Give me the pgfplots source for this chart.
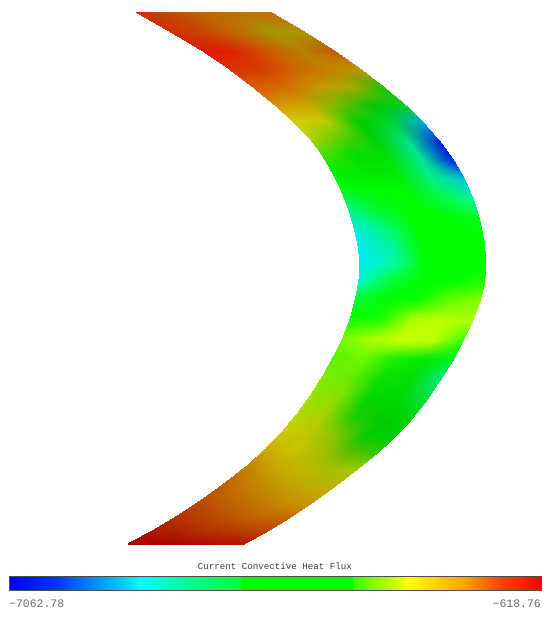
\documentclass[border=0pt]{standalone}
\usepackage{pgfplots}
\pgfplotsset{compat=1.18}
\usepgfplotslibrary{patchplots}
\usepackage{fontspec}
\setmonofont{Liberation Mono}
\definecolor{txtdark}{RGB}{60,60,60}
\definecolor{txtgray}{RGB}{105,105,105}
\begin{document}
\begin{tikzpicture}
\path[use as bounding box] (0,0) rectangle (550bp,617bp);
\begin{axis}[
  at={(0,0)},anchor=south west,
  scale only axis,width=550bp,height=617bp,
  xmin=0,xmax=550,ymin=0,ymax=617,y dir=reverse,
  hide axis,clip=false]
\addplot[surf,shader=interp,patch type=bilinear,mesh/color input=explicit,mesh/cols=5] table[meta=c] {
x y c
136 12 rgb255=205,50,0
169 12 rgb255=190,75,0
203 12 rgb255=190,100,0
236 12 rgb255=190,110,0
270 12 rgb255=195,110,0
170 31.5 rgb255=205,50,0
204 32 rgb255=200,70,0
237 32 rgb255=190,105,0
271 32 rgb255=165,150,0
305 32.5 rgb255=170,150,0
203 51 rgb255=225,25,0
236 51 rgb255=220,40,0
269 51 rgb255=200,90,0
302 51 rgb255=180,130,0
335 51.5 rgb255=195,90,0
228 68 rgb255=215,50,0
261 69 rgb255=215,60,0
295 69 rgb255=205,100,0
328 70 rgb255=195,130,0
362 70.5 rgb255=190,150,0
253 87 rgb255=215,90,0
285 87 rgb255=210,110,0
318 87 rgb255=200,150,0
351 87 rgb255=170,170,0
384 87.5 rgb255=20,195,0
275 105 rgb255=210,150,0
308 105 rgb255=205,165,0
340 105.5 rgb255=110,190,0
373 106 rgb255=0,200,0
406 106 rgb255=0,210,40
293 121 rgb255=210,205,0
325 121 rgb255=195,205,0
358 122 rgb255=0,205,0
390 122 rgb255=0,215,40
423 122.5 rgb255=0,170,215
308 136 rgb255=190,210,0
341 138 rgb255=90,205,0
374.5 139.5 rgb255=0,210,0
408 141 rgb255=0,225,140
441 143 rgb255=0,30,225
320 151.5 rgb255=90,220,0
353.5 154 rgb255=0,225,0
387 156 rgb255=0,225,0
420.5 158.5 rgb255=0,230,150
454 161 rgb255=0,30,225
331 170 rgb255=0,235,0
364.5 172.5 rgb255=0,235,0
398 175 rgb255=0,235,10
431.5 177.5 rgb255=0,240,130
465 180 rgb255=0,200,220
340 187 rgb255=0,250,10
373.5 190.5 rgb255=0,250,0
407 194 rgb255=0,250,0
440.5 197.5 rgb255=0,250,70
474 201 rgb255=0,250,140
348 207 rgb255=0,245,120
381 210.5 rgb255=0,250,40
414 214 rgb255=0,255,0
447 217.5 rgb255=0,255,0
480 221 rgb255=0,255,20
354 227 rgb255=0,240,210
386.5 230.5 rgb255=0,245,130
419 234 rgb255=0,255,0
451.5 237.5 rgb255=0,255,0
484 241 rgb255=0,255,0
358 245 rgb255=0,235,235
390 248 rgb255=0,245,170
422 251 rgb255=0,255,0
454 254 rgb255=0,255,0
485.5 257 rgb255=0,255,0
360 262 rgb255=0,235,250
391.5 263.5 rgb255=0,250,170
423 265 rgb255=0,255,10
454.5 266.5 rgb255=0,255,0
486 268 rgb255=0,255,0
359 280 rgb255=0,245,210
390 281 rgb255=0,255,50
422 281.5 rgb255=0,255,0
453 282 rgb255=0,255,0
484.5 283 rgb255=40,255,0
356 297 rgb255=0,255,60
387 298 rgb255=0,255,0
418 298.5 rgb255=0,255,0
449 299 rgb255=90,255,0
480.5 300 rgb255=130,255,0
351 317 rgb255=0,255,0
381 318 rgb255=20,255,0
411.5 319.5 rgb255=170,255,0
442 321 rgb255=190,255,0
472 322 rgb255=170,255,0
343 338 rgb255=120,250,0
373 339 rgb255=170,255,0
403 340 rgb255=205,255,0
433 341 rgb255=190,255,0
462.5 342 rgb255=40,255,0
334 356 rgb255=90,245,0
364 357 rgb255=110,250,0
393.5 358 rgb255=30,240,0
423 359 rgb255=0,235,0
453 360 rgb255=0,240,30
323 376 rgb255=120,235,0
353 377 rgb255=100,235,0
382 377.5 rgb255=10,225,0
412 378 rgb255=0,225,0
441 379 rgb255=0,230,130
311 395 rgb255=150,230,0
340 396.5 rgb255=130,225,0
369 398 rgb255=0,215,0
397.5 400 rgb255=0,215,0
426 401 rgb255=0,225,60
298 413 rgb255=180,215,0
326 415 rgb255=160,210,0
354 417 rgb255=30,205,0
382 419 rgb255=0,205,0
410 421 rgb255=0,210,0
283 431 rgb255=205,205,0
311 433 rgb255=190,200,0
338.5 435 rgb255=130,195,0
366 436.5 rgb255=0,205,0
393.5 438.5 rgb255=0,205,0
266 449 rgb255=200,175,0
293 450 rgb255=205,195,0
321 451.5 rgb255=170,190,0
348 453 rgb255=100,190,0
376 454 rgb255=60,200,0
247 466 rgb255=195,130,0
274 467 rgb255=200,165,0
301.5 468 rgb255=195,185,0
329 469 rgb255=170,190,0
356 470 rgb255=160,200,0
226 482.5 rgb255=190,100,0
253.5 483.5 rgb255=200,130,0
280 485 rgb255=195,155,0
307 486 rgb255=190,170,0
334 487 rgb255=190,180,0
204 498.5 rgb255=185,80,0
231 500 rgb255=190,100,0
257.5 501 rgb255=195,120,0
284 502 rgb255=200,140,0
311 503.5 rgb255=200,150,0
180 514.5 rgb255=180,55,0
207 516 rgb255=185,70,0
233.5 517 rgb255=190,85,0
260 518 rgb255=195,100,0
287 519.5 rgb255=195,100,0
154 530 rgb255=175,25,0
182 530.5 rgb255=175,35,0
210 531 rgb255=180,50,0
238 531.5 rgb255=185,60,0
266 532 rgb255=190,65,0
128 544 rgb255=170,0,0
157 544 rgb255=170,5,0
186 544 rgb255=175,10,0
215 544 rgb255=175,15,0
244 544 rgb255=180,20,0
};
% colour bar
\addplot[surf,shader=interp,mesh/color input=explicit,mesh/cols=2] table[meta=c] {
x y c
9 576 rgb255=0,0,255
9 590 rgb255=0,0,255
55 576 rgb255=0,50,255
55 590 rgb255=0,50,255
130 576 rgb255=0,220,255
130 590 rgb255=0,220,255
140 576 rgb255=0,255,255
140 590 rgb255=0,255,255
185 576 rgb255=0,255,150
185 590 rgb255=0,255,150
240 576 rgb255=0,255,60
240 590 rgb255=0,255,60
243 576 rgb255=0,255,0
243 590 rgb255=0,255,0
352 576 rgb255=0,255,0
352 590 rgb255=0,255,0
355 576 rgb255=60,255,0
355 590 rgb255=60,255,0
408 576 rgb255=255,255,0
408 590 rgb255=255,255,0
463 576 rgb255=255,165,0
463 590 rgb255=255,165,0
500 576 rgb255=255,70,0
500 590 rgb255=255,70,0
541 576 rgb255=255,0,0
541 590 rgb255=255,0,0
};
\addplot[no marks,draw=black!70,line width=0.7pt] coordinates {(9,576) (541,576) (541,590) (9,590) (9,576)};
\node[text=txtdark,font=\ttfamily\fontsize{9.2}{10}\selectfont,anchor=center] at (axis cs:275,566) {Current Convective Heat Flux};
\node[text=txtgray,font=\ttfamily\fontsize{11.5}{12}\selectfont,anchor=west,inner sep=0pt] at (axis cs:9,604) {\textminus 7062.78};
\node[text=txtgray,font=\ttfamily\fontsize{11.5}{12}\selectfont,anchor=east,inner sep=0pt] at (axis cs:541,604) {\textminus 618.76};
\end{axis}
\end{tikzpicture}
\end{document}
